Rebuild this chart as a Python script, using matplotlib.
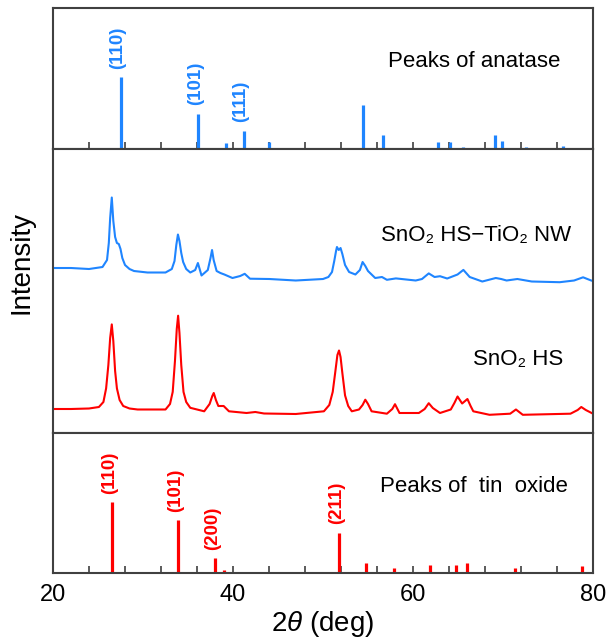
import matplotlib.pyplot as plt
from matplotlib.ticker import MultipleLocator
import numpy as np

plt.rcParams['font.family'] = ['Liberation Sans', 'DejaVu Sans']
plt.rcParams['mathtext.fontset'] = 'custom'
plt.rcParams['mathtext.rm'] = 'Liberation Sans'
plt.rcParams['mathtext.it'] = 'Liberation Sans:italic'

BLUE = '#1f85ff'
RED = '#ff0000'
GRAY = '#404040'

# reference peaks (2theta, relative intensity)
anatase_pos = [27.5, 36.1, 39.2, 41.2, 44.0, 54.4, 56.7, 62.8, 64.1, 65.6,
               69.1, 69.9, 72.6, 74.5, 76.7, 80.0]
anatase_int = [0.51, 0.25, 0.04, 0.13, 0.05, 0.31, 0.10, 0.05, 0.05, 0.012,
               0.10, 0.06, 0.012, 0.008, 0.02, 0.012]
anatase_hkl = {27.5: '(110)', 36.1: '(101)', 41.2: '(111)'}

tin_pos = [26.6, 33.9, 38.0, 39.0, 42.6, 51.8, 54.8, 57.9, 61.9, 62.6,
           64.8, 66.0, 69.3, 71.3, 71.9, 74.5, 78.8]
tin_int = [0.505, 0.377, 0.108, 0.02, 0.01, 0.288, 0.07, 0.035, 0.06, 0.01,
           0.06, 0.07, 0.008, 0.035, 0.01, 0.008, 0.047]
tin_hkl = {26.6: '(110)', 33.9: '(101)', 38.0: '(200)', 51.8: '(211)'}

# measured patterns (2theta, intensity a.u.)
hs_nw_x = [20.0, 22.0, 24.0, 25.5, 26.0, 26.2, 26.35, 26.53, 26.7, 26.9, 27.1,
           27.31, 27.5, 27.7, 28.0, 28.5, 29.0, 30.5, 32.5, 33.2, 33.5, 33.7,
           33.88, 34.05, 34.25, 34.46, 34.8, 35.25, 35.8, 36.1, 36.5, 37.2,
           37.5, 37.67, 37.85, 38.18, 38.6, 39.04, 39.94, 40.8, 41.3, 41.89,
           44.04, 46.97, 50.0, 50.6, 51.0, 51.25, 51.45, 51.55, 51.75, 51.95,
           52.15, 52.45, 52.9, 53.6, 54.1, 54.4, 54.7, 55.0, 55.8, 56.55, 57.1,
           58.1, 60.3, 61.0, 61.75, 62.4, 63.0, 63.8, 64.95, 65.6, 66.3, 67.7,
           69.2, 69.8, 70.4, 71.6, 73.2, 76.3, 77.9, 78.9, 79.8, 80.0]
hs_nw_y = [165, 165, 164, 166, 173, 190, 215, 235.5, 212, 196, 190,
           189, 184, 175, 168, 164, 162, 160.5, 160.5, 164, 172, 188,
           198.5, 192, 180, 171, 164, 160.5, 163, 170, 157.5, 163,
           175, 183, 173, 162, 160, 158.5, 155, 157, 159.2, 154.3,
           154, 152.5, 154, 156, 161, 172, 182, 186, 183, 185,
           179, 168, 161, 158.5, 163, 171, 167, 162, 155, 156, 153.2,
           154.6, 152.5, 154, 159.6, 156, 156.8, 154.5, 158.5, 163.1, 156, 151.5,
           155, 154, 152.5, 154, 151.5, 150.8, 152.5, 155.7, 152.5, 152]

hs_x = [20.0, 22.0, 24.0, 25.1, 25.6, 25.9, 26.15, 26.35, 26.53, 26.7, 26.9,
        27.1, 27.4, 27.8, 28.5, 29.4, 32.5, 33.0, 33.3, 33.55, 33.75, 33.9,
        34.05, 34.25, 34.5, 34.8, 35.25, 36.8, 37.4, 37.7, 37.86, 38.1, 38.37,
        38.96, 39.55, 41.5, 42.48, 43.45, 46.97, 50.1, 50.7, 51.08, 51.35,
        51.6, 51.78, 51.95, 52.15, 52.45, 52.8, 53.2, 54.0, 54.4, 54.7, 55.0,
        55.4, 57.1, 57.7, 58.0, 58.5, 60.65, 61.3, 61.75, 62.2, 63.0, 64.2,
        64.6, 64.95, 65.46, 66.05, 66.4, 66.7, 68.5, 70.8, 71.44, 72.2, 77.5,
        78.3, 78.7, 79.2, 80.0]
hs_y = [24, 24, 24.5, 26, 31, 44.6, 68, 95, 108.6, 92, 62,
        44.6, 33, 27, 24.5, 23.5, 23.5, 29, 41.1, 72, 104, 117.3,
        100, 68, 41.1, 31, 25.2, 21.7, 29, 37, 40, 33, 27,
        27, 21.7, 20, 21, 19.5, 19, 21.7, 28, 41.1, 60,
        78, 82.5, 76, 60, 37.6, 27, 21.7, 23.5, 28, 33.3, 29,
        21.7, 19.3, 24, 28.8, 20, 20, 24, 29.8, 25, 20, 23.5,
        30, 36.5, 29.5, 34, 27, 21.7, 18.2, 19.3, 23.5, 18.2, 19.3,
        23, 26, 23, 19.3]

fig = plt.figure(figsize=(6.08, 6.42), dpi=100)
gs = fig.add_gridspec(3, 1, height_ratios=[141, 284, 140], hspace=0,
                      left=0.0872, right=0.9753, top=0.9875, bottom=0.1075)
ax_top = fig.add_subplot(gs[0])
ax_mid = fig.add_subplot(gs[1], sharex=ax_top)
ax_bot = fig.add_subplot(gs[2], sharex=ax_top)


def stems(ax, pos, val, hkl, color):
    ax.vlines(pos, 0, val, color=color, lw=2.3)
    for p, v in zip(pos, val):
        if p in hkl:
            ax.annotate(hkl[p], (p, v), xytext=(-2, 6), textcoords='offset points',
                        rotation=90, ha='center', va='bottom', color=color,
                        fontsize=13.5, fontweight='bold')
    ax.set_ylim(0, 1)


stems(ax_top, anatase_pos, anatase_int, anatase_hkl, BLUE)
stems(ax_bot, tin_pos, tin_int, tin_hkl, RED)

ax_mid.plot(hs_nw_x, hs_nw_y, color=BLUE, lw=1.5)
ax_mid.plot(hs_x, hs_y, color=RED, lw=1.5)
ax_mid.set_ylim(0, 284)

ax_top.text(0.62, 0.62, 'Peaks of anatase', transform=ax_top.transAxes,
            fontsize=16, va='center')
ax_mid.text(0.608, 0.695, 'SnO\u2082 HS\u2212TiO\u2082 NW', transform=ax_mid.transAxes,
            fontsize=16, va='center')
ax_mid.text(0.778, 0.258, 'SnO\u2082 HS', transform=ax_mid.transAxes,
            fontsize=16, va='center')
ax_bot.text(0.605, 0.62, 'Peaks of  tin  oxide', transform=ax_bot.transAxes,
            fontsize=16, va='center')

for ax in (ax_top, ax_mid, ax_bot):
    ax.set_xlim(20, 80)
    ax.set_yticks([])
    for s in ax.spines.values():
        s.set_color(GRAY)
        s.set_linewidth(1.5)
    ax.xaxis.set_major_locator(MultipleLocator(20))
    ax.xaxis.set_minor_locator(MultipleLocator(4))
    ax.tick_params(axis='x', which='both', direction='in', length=5,
                   width=1.2, color=GRAY, labelsize=17, pad=8)

ax_top.tick_params(axis='x', labelbottom=False)
ax_mid.tick_params(axis='x', which='both', bottom=False, labelbottom=False)

ax_bot.set_xlabel('2$\\theta$ (deg)', fontsize=20, labelpad=2)
fig.text(0.036, 1 - 263 / 642, 'Intensity', rotation=90, fontsize=20,
         ha='center', va='center')

fig.savefig('out.png', dpi=100)
